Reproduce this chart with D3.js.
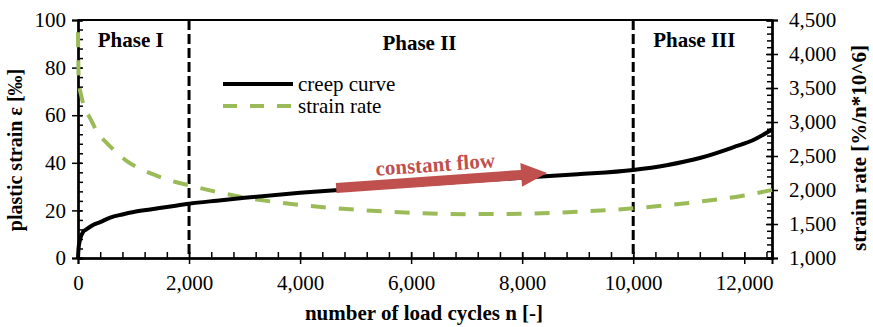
<!DOCTYPE html>
<html>
<head>
<meta charset="utf-8">
<script src="https://cdn.jsdelivr.net/npm/d3@7/dist/d3.min.js"></script>
<style>
  body { margin: 0; background: #fff; }
  svg text { font-family: "Liberation Serif", Tinos, "Times New Roman", Times, "DejaVu Serif", serif; }
</style>
</head>
<body>
<div class="chart"></div>
<script>
// creep curve (plastic strain in permille vs. load cycles)
var creepCycles = [0, 10, 30, 60, 90, 150, 270, 400, 580, 800, 1000, 1300, 1600, 2000, 2500, 3000, 4000, 5000, 6000, 7000, 8000, 9000, 10000, 10600, 11200, 11800, 12200, 12500];
var creepStrain = [0, 4, 7, 9.5, 10.9, 12, 13.9, 15.1, 17, 18.3, 19.3, 20.4, 21.4, 22.8, 24.1, 25.3, 27.4, 29.1, 30.7, 32.2, 33.7, 35.2, 37, 39, 42, 46.5, 50, 54];

// strain rate (right axis)
var rateCycles = [0, 10, 30, 55, 100, 215, 350, 520, 700, 880, 1100, 1390, 1700, 2000, 2500, 3000, 4000, 5000, 6000, 7000, 8000, 9000, 10000, 11000, 12000, 12500];
var rateValues = [4320, 3700, 3500, 3400, 3250, 3060, 2850, 2690, 2550, 2425, 2320, 2220, 2130, 2070, 1970, 1890, 1780, 1710, 1665, 1645, 1650, 1680, 1730, 1810, 1920, 2000];

var phaseBounds = [2000, 10000];
var phaseNames = ["Phase I", "Phase II", "Phase III"];
var phaseCenters = [950, 6150, 11100];

var xTicks = [0, 2000, 4000, 6000, 8000, 10000, 12000];
var leftTicks = [0, 20, 40, 60, 80, 100];
var rightTicks = [1000, 1500, 2000, 2500, 3000, 3500, 4000, 4500];

// arrow "constant flow" start / end in data units
var flowFrom = [4650, 29.4];
var flowTo = [8450, 35.7];

var svgWidth = 873, svgHeight = 327;
var margin = {top: 20, right: 101, bottom: 69, left: 78};
var chart_width = svgWidth - margin.left - margin.right,
    chart_height = svgHeight - margin.top - margin.bottom;

var svg = d3.select(".chart").append("svg")
    .attr("width", svgWidth)
    .attr("height", svgHeight);

var g = svg.append("g")
    .attr("transform", "translate(" + margin.left + "," + margin.top + ")");

var x = d3.scaleLinear().domain([0, 12500]).range([0, chart_width]);
var yL = d3.scaleLinear().domain([0, 100]).range([chart_height, 0]);
var yR = d3.scaleLinear().domain([1000, 4500]).range([chart_height, 0]);

var red = "#c0504d", green = "#9bbb59";
var fs = 21;

// minor ticks (inside)
g.append("g")
    .attr("transform", "translate(0," + chart_height + ")")
    .call(d3.axisTop(x).tickValues(d3.range(0, 12500, 400)).tickSize(6).tickFormat(""));
g.append("g")
    .call(d3.axisRight(yL).tickValues(d3.range(0, 101, 4)).tickSize(5).tickFormat(""));
g.append("g")
    .attr("transform", "translate(" + chart_width + ",0)")
    .call(d3.axisLeft(yR).tickValues(d3.range(1000, 4501, 100)).tickSize(5).tickFormat(""));

// major ticks crossing the axis
g.append("g")
    .attr("transform", "translate(0," + chart_height + ")")
    .call(d3.axisTop(x).tickValues(xTicks).tickSize(6).tickFormat(""));
g.append("g")
    .attr("class", "xaxis")
    .attr("transform", "translate(0," + chart_height + ")")
    .call(d3.axisBottom(x).tickValues(xTicks).tickSize(6).tickPadding(11).tickFormat(d3.format(",")));
g.append("g")
    .call(d3.axisRight(yL).tickValues(leftTicks).tickSize(4).tickFormat(""));
g.append("g")
    .attr("class", "laxis")
    .call(d3.axisLeft(yL).tickValues(leftTicks).tickSize(6).tickPadding(6));
g.append("g")
    .attr("transform", "translate(" + chart_width + ",0)")
    .call(d3.axisLeft(yR).tickValues(rightTicks).tickSize(6).tickFormat(""));
g.append("g")
    .attr("class", "raxis")
    .attr("transform", "translate(" + chart_width + ",0)")
    .call(d3.axisRight(yR).tickValues(rightTicks).tickSize(6).tickPadding(11).tickFormat(d3.format(",")));

g.selectAll(".domain").attr("stroke", "#000").attr("stroke-width", 2);
g.selectAll(".tick line").attr("stroke", "#000").attr("stroke-width", 1.5);
g.selectAll(".tick text")
    .attr("font-size", fs)
    .attr("fill", "#000");

// top frame line
g.append("line")
    .attr("x1", 0).attr("x2", chart_width)
    .attr("y1", 0).attr("y2", 0)
    .attr("stroke", "#000").attr("stroke-width", 2);

// phase boundaries
g.selectAll(".phase-line")
    .data(phaseBounds)
    .enter()
    .append("line")
      .attr("x1", function(d){ return x(d); })
      .attr("x2", function(d){ return x(d); })
      .attr("y1", 0).attr("y2", chart_height)
      .attr("stroke", "#000")
      .attr("stroke-width", 3)
      .attr("stroke-dasharray", "10,4");

g.selectAll(".phase-label")
    .data(phaseNames)
    .enter()
    .append("text")
      .attr("x", function(d, i){ return x(phaseCenters[i]); })
      .attr("y", function(d, i){ return i == 1 ? 30 : 27; })
      .attr("text-anchor", "middle")
      .attr("font-size", fs)
      .attr("font-weight", "bold")
      .text(function(d){ return d; });

// strain rate line
var rateData = rateCycles.map(function(c, i){ return [c, rateValues[i]]; });
g.append("path")
    .datum(rateData)
    .attr("fill", "none")
    .attr("stroke", green)
    .attr("stroke-width", 4)
    .attr("stroke-dasharray", "15,13")
    .attr("d", d3.line()
      .x(function(d){ return x(d[0]); })
      .y(function(d){ return yR(d[1]); })
      .curve(d3.curveMonotoneX));

// creep curve
var creepData = creepCycles.map(function(c, i){ return [c, creepStrain[i]]; });
g.append("path")
    .datum(creepData)
    .attr("fill", "none")
    .attr("stroke", "#000")
    .attr("stroke-width", 4)
    .attr("stroke-linejoin", "round")
    .attr("d", d3.line()
      .x(function(d){ return x(d[0]); })
      .y(function(d){ return yL(d[1]); })
      .curve(d3.curveMonotoneX));

// constant flow arrow
var ax0 = x(flowFrom[0]), ay0 = yL(flowFrom[1]),
    ax1 = x(flowTo[0]), ay1 = yL(flowTo[1]);
var ang = Math.atan2(ay1 - ay0, ax1 - ax0) * 180 / Math.PI;
var len = Math.hypot(ax1 - ax0, ay1 - ay0);
var headL = 26, headW = 12, shaftW = 5;
g.append("polygon")
    .attr("transform", "translate(" + ax0 + "," + ay0 + ") rotate(" + ang + ")")
    .attr("points", [
      [0, -shaftW], [len - headL, -shaftW], [len - headL, -headW],
      [len, 0], [len - headL, headW], [len - headL, shaftW], [0, shaftW]
    ].join(" "))
    .attr("fill", red);

g.append("text")
    .attr("transform", "translate(" + ((ax0 + ax1) / 2 - 6) + "," + ((ay0 + ay1) / 2 - 9) + ") rotate(" + ang + ")")
    .attr("text-anchor", "middle")
    .attr("font-size", fs)
    .attr("font-weight", "bold")
    .attr("fill", red)
    .text("constant flow");

// legend
var legend = g.append("g").attr("transform", "translate(145,64)");
legend.append("line")
    .attr("x1", 0).attr("x2", 70).attr("y1", 0).attr("y2", 0)
    .attr("stroke", "#000").attr("stroke-width", 4);
legend.append("text")
    .attr("x", 75).attr("y", 7)
    .attr("font-size", fs)
    .text("creep curve");
legend.append("line")
    .attr("x1", 0).attr("x2", 70).attr("y1", 22).attr("y2", 22)
    .attr("stroke", green).attr("stroke-width", 4)
    .attr("stroke-dasharray", "14,13");
legend.append("text")
    .attr("x", 75).attr("y", 29)
    .attr("font-size", fs)
    .text("strain rate");

// axis titles
svg.append("text")
    .attr("x", margin.left + chart_width / 2 - 1)
    .attr("y", 320)
    .attr("text-anchor", "middle")
    .attr("font-size", fs)
    .attr("font-weight", "bold")
    .text("number of load cycles n [-]");

svg.append("text")
    .attr("transform", "translate(22,150) rotate(-90)")
    .attr("text-anchor", "middle")
    .attr("font-size", 20)
    .attr("font-weight", "bold")
    .text("plastic strain ε [‰]");

svg.append("text")
    .attr("transform", "translate(866,148) rotate(-90)")
    .attr("text-anchor", "middle")
    .attr("font-size", fs)
    .attr("font-weight", "bold")
    .text("strain rate [%/n*10^6]");
</script>
</body>
</html>
